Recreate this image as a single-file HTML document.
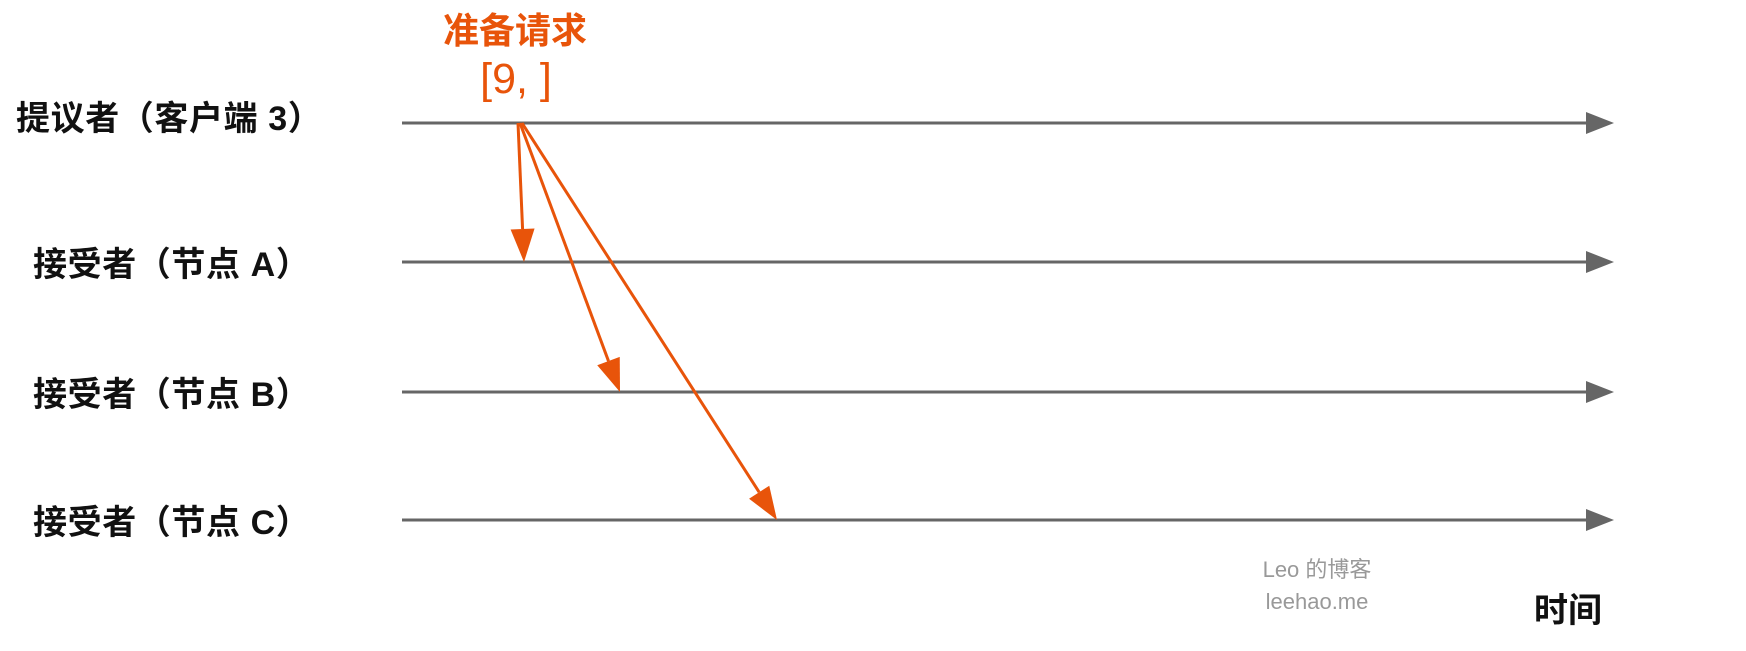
<!DOCTYPE html>
<html><head><meta charset="utf-8"><style>
html,body{margin:0;padding:0;background:#fff;width:1746px;height:651px;overflow:hidden}
text{font-family:"Liberation Sans","Noto Sans CJK SC",sans-serif}
</style></head><body>
<svg id="chart" width="1746" height="651" xmlns="http://www.w3.org/2000/svg">
</svg>
<script>
const lanes = ["提议者（客户端 3）","接受者（节点 A）","接受者（节点 B）","接受者（节点 C）"];
const laneY = [123, 262, 392, 520];
const laneLabelY = [118, 264, 394, 522];
const laneLabelX = [16, 33, 33, 33];
const msgTargetX = [524, 620, 777];
const msgTargetLane = [1, 2, 3];
const msgSourceX = [518, 520, 522];
const svg = document.getElementById('chart');
const NS = 'http://www.w3.org/2000/svg';
function mk(tag, attrs){const e=document.createElementNS(NS,tag);for(const k in attrs)e.setAttribute(k,attrs[k]);svg.appendChild(e);return e;}
lanes.forEach((name,i)=>{
  const t = mk('text',{x:laneLabelX[i],y:laneLabelY[i]+12,'font-size':34,'font-weight':'bold',fill:'#111','letter-spacing':0.6});
  t.textContent = name;
  
  
  const l = mk('line',{x1:402,y1:laneY[i],x2:1590,y2:laneY[i],stroke:'#666','stroke-width':3});
  
  
  const h = mk('path',{d:`M1586,${laneY[i]-11} L1614,${laneY[i]} L1586,${laneY[i]+11} Z`,fill:'#666'});
  
  
});
msgTargetX.forEach((tx,i)=>{
  const y0 = laneY[0], y1 = laneY[msgTargetLane[i]], x0 = msgSourceX[i];
  const dx = tx-x0, dy = y1-y0, len = Math.hypot(dx,dy), ux=dx/len, uy=dy/len;
  const bx = tx-ux*33, by = y1-uy*33;
  const l = mk('line',{x1:x0,y1:y0,x2:bx,y2:by,stroke:'#e8540a','stroke-width':3});
  
  
  const px=-uy*12, py=ux*12;
  const h = mk('path',{d:`M${tx},${y1} L${bx+px},${by+py} L${bx-px},${by-py} Z`,fill:'#e8540a'});
  
  
});
const t1 = mk('text',{x:515,y:43,'font-size':36,'font-weight':'bold',fill:'#e8540a','text-anchor':'middle'});
t1.textContent='准备请求';


const t2 = mk('text',{x:516,y:93,'font-size':43,fill:'#e8540a','text-anchor':'middle'});
t2.textContent='[9, ]';


const w1 = mk('text',{x:1317,y:577,'font-size':22,fill:'#999','text-anchor':'middle'});
w1.textContent='Leo 的博客';


const w2 = mk('text',{x:1317,y:609,'font-size':22,fill:'#999','text-anchor':'middle'});
w2.textContent='leehao.me';


const ta = mk('text',{x:1568,y:622,'font-size':34,'font-weight':'bold',fill:'#111','text-anchor':'middle'});
ta.textContent='时间';


</script>
</body></html>
